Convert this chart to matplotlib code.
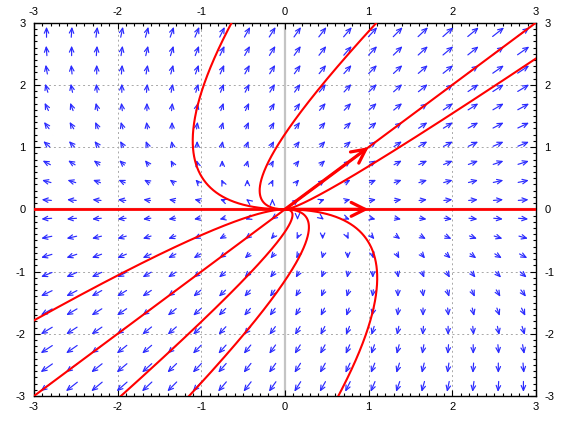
import matplotlib
matplotlib.use("Agg")
import matplotlib.pyplot as plt
import numpy as np

plt.rcParams['font.family'] = ['Liberation Sans', 'DejaVu Sans']
plt.rcParams['axes.unicode_minus'] = False

# linear system  x' = x + y ,  y' = 2y
A = [[1.0, 1.0],
     [0.0, 2.0]]

# grid of the direction field
field_x = [-2.85 + 0.3 * i for i in range(20)]
field_y = [-2.85 + 0.3 * i for i in range(20)]

# trajectories: x - y = k * sqrt(|y|)
k_upper = [-2.1, -1.1, 0.0, 0.37]
k_lower = [-0.91, 0.0, 0.6, 1.07, 2.1]

# eigen directions shown with big arrows
eig_arrows = [(1.0, 1.0), (1.0, 0.0)]

ticks = [-3, -2, -1, 0, 1, 2, 3]

fig = plt.figure(figsize=(5.7, 4.23), dpi=100)
ax = fig.add_axes([0.0596, 0.0638, 0.8807, 0.8826])
ax.set_xlim(-3, 3)
ax.set_ylim(-3, 3)

# --- grid + zero axes ---
for t in ticks:
    ax.axvline(t, color="#a8a8a8", lw=0.7, ls=(0, (2, 3)), zorder=0)
    ax.axhline(t, color="#a8a8a8", lw=0.7, ls=(0, (2, 3)), zorder=0)
ax.axvline(0, color="#c4c4c4", lw=1.6, zorder=0)
ax.axhline(0, color="#c4c4c4", lw=1.6, zorder=0)

# --- direction field (arrow length ~ sqrt of speed) ---
scale = 0.0707
for x in field_x:
    for y in field_y:
        u = A[0][0] * x + A[0][1] * y
        v = A[1][0] * x + A[1][1] * y
        m = np.hypot(u, v)
        dx, dy = scale * u / np.sqrt(m), scale * v / np.sqrt(m)
        ax.annotate("", xy=(x + dx / 2, y + dy / 2), xytext=(x - dx / 2, y - dy / 2),
                    arrowprops=dict(arrowstyle="->,head_length=0.36,head_width=0.16",
                                    color="#2a2aff", lw=0.85, shrinkA=0, shrinkB=0),
                    zorder=2)

# --- trajectories ---
s = np.linspace(0, 3, 600)
for k in k_upper:
    ax.plot(s + k * np.sqrt(s), s, color="red", lw=1.5, zorder=3)
for k in k_lower:
    ax.plot(-s + k * np.sqrt(s), -s, color="red", lw=1.5, zorder=3)
ax.plot([-3, 3], [0, 0], color="red", lw=2.0, zorder=3)

for ex, ey in eig_arrows:
    ax.annotate("", xy=(ex, ey), xytext=(0, 0),
                arrowprops=dict(arrowstyle="->,head_length=1.0,head_width=0.5",
                                color="red", lw=2.3, shrinkA=0, shrinkB=0),
                zorder=4)

# --- axes / ticks ---
ax.set_xticks(ticks)
ax.set_yticks(ticks)
ax.set_xticks(np.arange(-3, 3.01, 0.1), minor=True)
ax.set_yticks(np.arange(-3, 3.01, 0.1), minor=True)
ax.tick_params(which="both", direction="in", top=True, right=True,
               labeltop=True, labelright=True, labelsize=8, width=0.8)
ax.tick_params(which="major", length=4.5)
ax.tick_params(which="minor", length=2.5)
ax.tick_params(axis="x", which="major", pad=4)
ax.tick_params(axis="y", which="major", pad=6)
for sp in ax.spines.values():
    sp.set_linewidth(1.0)

fig.savefig("out.png", dpi=100)
